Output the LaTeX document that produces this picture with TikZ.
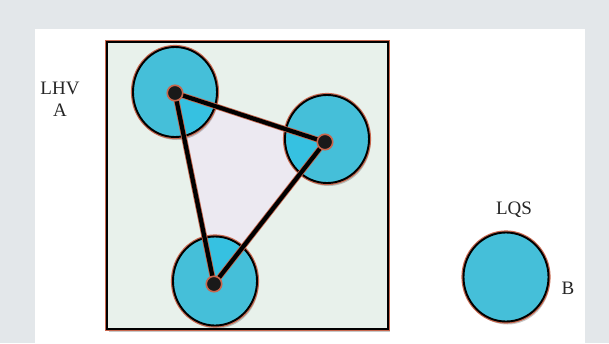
\documentclass[tikz,border=0pt]{standalone}
\usepackage{fontspec}
\setmainfont{Liberation Serif}
\usetikzlibrary{shapes.geometric,shadows}
\definecolor{bggray}{HTML}{E3E7EA}
\definecolor{panelgreen}{HTML}{E8F1EB}
\definecolor{halo}{HTML}{C8674E}
\definecolor{cyanfill}{HTML}{45BFD9}
\definecolor{cyandeep}{HTML}{36C1E1}
\definecolor{lav}{HTML}{ECE9F1}
\begin{document}
\begin{tikzpicture}[x=1pt,y=-1pt,
  softshadow/.style={drop shadow={shadow xshift=1.5pt,shadow yshift=-3pt,opacity=0.22,fill=black}},
  disk/.style={ellipse,inner sep=0pt,fill=cyanfill,draw=black,line width=1.9pt,
    softshadow,preaction={draw=halo,line width=4.2pt}},
  dot/.style={circle,inner sep=0pt,minimum size=15.5pt,fill=black!90,draw=halo,line width=1.6pt},
  edgehalo/.style={draw=halo,line width=5.8pt,line cap=round},
  edgecore/.style={draw=black,line width=4.2pt,line cap=round},
  lbl/.style={font=\fontsize{19}{22}\selectfont,text=black!85,align=center,inner sep=0pt}]
% background and panel
\fill[bggray] (0,0) rectangle (609,343);
\fill[white] (35,29) rectangle (585,343);
\useasboundingbox (0,0) rectangle (609,343);
% frame
\node[draw=black,line width=2.4pt,fill=panelgreen,minimum width=281pt,minimum height=287pt,inner sep=0pt,
  softshadow,preaction={draw=halo,line width=4.8pt}] (frame) at (247.5,185.5) {};
% triangle corners
\coordinate (p1) at (175,93);
\coordinate (p2) at (325,142);
\coordinate (p3) at (214,284);
\fill[lav] (p1) -- (p2) -- (p3) -- cycle;
% disks
\node[disk,minimum width=84pt,minimum height=90pt] (c1) at (175,92) {};
\node[disk,minimum width=84pt,minimum height=88pt] (c2) at (327,139) {};
\node[disk,minimum width=84pt,minimum height=89pt] (c3) at (215,281) {};
\node[disk,minimum width=85pt,minimum height=89pt] (cB) at (506,277) {};
% deeper tint where triangle overlaps disks
\begin{scope}
  \clip (p1) -- (p2) -- (p3) -- cycle;
  \fill[cyandeep] (c1.center) ellipse [x radius=40.5pt,y radius=43.5pt];
  \fill[cyandeep] (c2.center) ellipse [x radius=40.5pt,y radius=42.5pt];
  \fill[cyandeep] (c3.center) ellipse [x radius=40.5pt,y radius=43pt];
\end{scope}
% triangle edges
\draw[edgehalo] (p1) -- (p2) -- (p3) -- cycle;
\draw[edgecore] (p1) -- (p2) -- (p3) -- cycle;
% dots
\node[dot] (d1) at (p1) {};
\node[dot] (d2) at (p2) {};
\node[dot] (d3) at (p3) {};
% labels
\node[lbl] (tA) at (60,99) {LHV\\A};
\node[lbl] (tLQS) at (514,210) {LQS};
\node[lbl] (tB) at (568,288) {B};
\end{tikzpicture}
\end{document}
